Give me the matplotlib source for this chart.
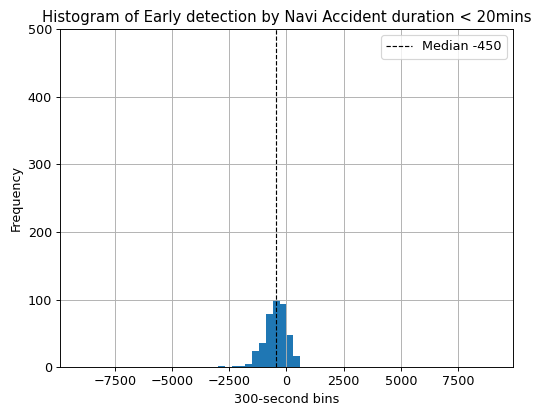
import numpy as np
import matplotlib
matplotlib.use("Agg")
import matplotlib.pyplot as plt

plt.rcParams["font.size"] = 11

# ── Data (counts per 300-second bin) ───────────────────────────
bin_left = [-3000, -2700, -2400, -2100, -1800, -1500, -1200, -900,
            -600, -300, 0, 300]
counts   = [2, 0, 2, 2, 5, 24, 36, 79, 99, 93, 48, 16]
median   = -450
bin_width = 300
bin_min, bin_max = -9000, 9000

edges = np.arange(bin_min, bin_max + bin_width, bin_width)
centers = [b + bin_width / 2 for b in bin_left]

fig = plt.figure(figsize=(6.4, 408 / 83.75), dpi=83.75)
ax = fig.add_axes([0.112, 0.10, 0.845, 0.829])

ax.hist(centers, bins=edges, weights=counts, color="#1f77b4")
ax.axvline(median, color="black", linestyle="--", linewidth=1,
           label=f"Median {median}")

ax.set_ylim(0, 500)
ax.set_title("Histogram of Early detection by Navi Accident duration < 20mins",
             fontsize=12.8)
ax.set_xlabel("300-second bins")
ax.set_ylabel("Frequency")
ax.grid(True)
ax.legend(loc="upper right")

fig.savefig("out.png", dpi=83.75)
